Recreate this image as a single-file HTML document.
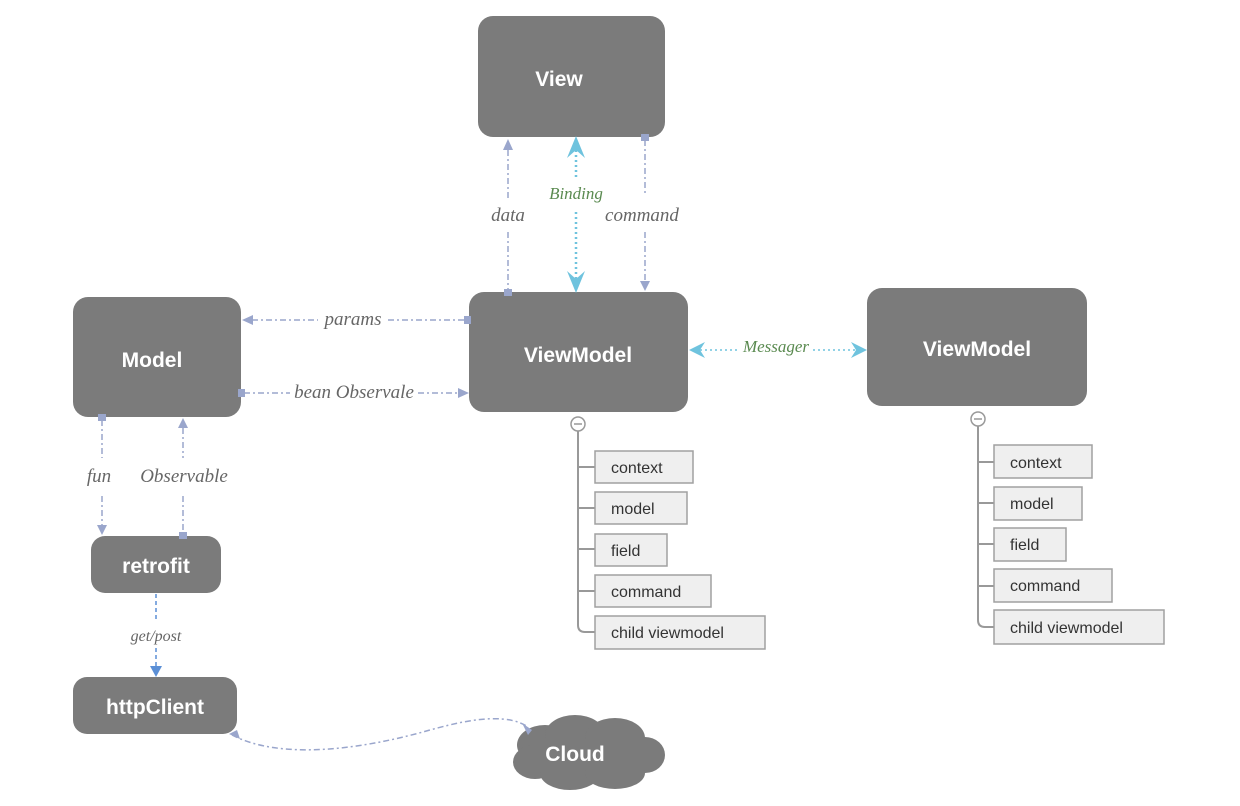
<!DOCTYPE html>
<html><head><meta charset="utf-8"><style>
html,body{margin:0;padding:0;background:#fff;}
svg{display:block;}
.n{fill:#7b7b7b;}
.nt{fill:#fff;font-family:"Liberation Sans",sans-serif;font-weight:bold;font-size:21px;text-anchor:middle;}
.lb{fill:#666;font-family:"Liberation Serif",serif;font-style:italic;font-size:19px;text-anchor:middle;}
.gl{fill:#5a8a50;font-family:"Liberation Serif",serif;font-style:italic;font-size:17px;text-anchor:middle;}
.ln{stroke:#9aa6cc;stroke-width:1.5;fill:none;stroke-dasharray:6 3 2 3;}
.bl{stroke:#6fc3de;stroke-width:2.5;fill:none;stroke-dasharray:2 3;}
.tb{fill:#efefef;stroke:#a0a0a0;stroke-width:1.5;}
.tt{fill:#333;font-family:"Liberation Sans",sans-serif;font-size:16px;}
.tr{stroke:#999;stroke-width:2;fill:none;}
</style></head><body>
<svg width="1240" height="806" viewBox="0 0 1240 806" xmlns="http://www.w3.org/2000/svg">
<!-- nodes -->
<rect class="n" x="478" y="16" width="187" height="121" rx="15"/>
<text class="nt" x="559" y="86">View</text>
<rect class="n" x="469" y="292" width="219" height="120" rx="15"/>
<text class="nt" x="578" y="362">ViewModel</text>
<rect class="n" x="867" y="288" width="220" height="118" rx="15"/>
<text class="nt" x="977" y="356">ViewModel</text>
<rect class="n" x="73" y="297" width="168" height="120" rx="15"/>
<text class="nt" x="152" y="367">Model</text>
<rect class="n" x="91" y="536" width="130" height="57" rx="14"/>
<text class="nt" x="156" y="573">retrofit</text>
<rect class="n" x="73" y="677" width="164" height="57" rx="14"/>
<text class="nt" x="155" y="714">httpClient</text>
<!-- cloud -->
<g fill="#7b7b7b">
<ellipse cx="545" cy="745" rx="28" ry="20"/>
<ellipse cx="575" cy="735" rx="30" ry="20"/>
<ellipse cx="615" cy="738" rx="30" ry="20"/>
<ellipse cx="645" cy="755" rx="20" ry="18"/>
<ellipse cx="535" cy="762" rx="22" ry="17"/>
<ellipse cx="570" cy="773" rx="30" ry="17"/>
<ellipse cx="615" cy="773" rx="30" ry="16"/>
<rect x="530" y="740" width="120" height="30"/>
</g>
<text class="nt" x="575" y="761">Cloud</text>

<!-- data -->
<line class="ln" x1="508" y1="150" x2="508" y2="198"/>
<line class="ln" x1="508" y1="232" x2="508" y2="290"/>
<polygon points="508,139 503,150 513,150" fill="#9aa6cc"/>
<rect x="504" y="289" width="8" height="7" fill="#9aa6cc"/>
<text class="lb" x="508" y="221">data</text>
<!-- command -->
<line class="ln" x1="645" y1="140" x2="645" y2="193"/>
<line class="ln" x1="645" y1="232" x2="645" y2="280"/>
<rect x="641" y="134" width="8" height="7" fill="#9aa6cc"/>
<polygon points="645,291 640,281 650,281" fill="#9aa6cc"/>
<text class="lb" x="642" y="221">command</text>
<!-- binding -->
<line class="bl" x1="576" y1="150" x2="576" y2="180"/>
<line class="bl" x1="576" y1="212" x2="576" y2="280"/>
<polygon points="576,136 567,158 576,150 585,158" fill="#6fc3de"/>
<polygon points="576,293 567,271 576,279 585,271" fill="#6fc3de"/>
<text class="gl" x="576" y="199">Binding</text>
<!-- messager -->
<line class="bl" x1="700" y1="350" x2="740" y2="350" style="stroke-width:1.5"/>
<line class="bl" x1="813" y1="350" x2="856" y2="350" style="stroke-width:1.5"/>
<polygon points="689,350 705,342 700,350 705,358" fill="#6fc3de"/>
<polygon points="867,350 851,342 856,350 851,358" fill="#6fc3de"/>
<text class="gl" x="776" y="352">Messager</text>
<!-- params -->
<line class="ln" x1="252" y1="320" x2="318" y2="320"/>
<line class="ln" x1="388" y1="320" x2="466" y2="320"/>
<polygon points="242,320 253,315 253,325" fill="#9aa6cc"/>
<rect x="464" y="316" width="7" height="8" fill="#9aa6cc"/>
<text class="lb" x="353" y="325">params</text>
<!-- bean -->
<line class="ln" x1="244" y1="393" x2="290" y2="393"/>
<line class="ln" x1="418" y1="393" x2="458" y2="393"/>
<rect x="238" y="389" width="7" height="8" fill="#9aa6cc"/>
<polygon points="469,393 458,388 458,398" fill="#9aa6cc"/>
<text class="lb" x="354" y="398">bean Observale</text>
<!-- fun -->
<line class="ln" x1="102" y1="420" x2="102" y2="458"/>
<line class="ln" x1="102" y1="496" x2="102" y2="525"/>
<rect x="98" y="414" width="8" height="7" fill="#9aa6cc"/>
<polygon points="102,535 97,525 107,525" fill="#9aa6cc"/>
<text class="lb" x="99" y="482">fun</text>
<!-- observable -->
<line class="ln" x1="183" y1="428" x2="183" y2="458"/>
<line class="ln" x1="183" y1="496" x2="183" y2="532"/>
<polygon points="183,418 178,428 188,428" fill="#9aa6cc"/>
<rect x="179" y="532" width="8" height="7" fill="#9aa6cc"/>
<text class="lb" x="184" y="482">Observable</text>
<!-- get/post -->
<line x1="156" y1="594" x2="156" y2="622" stroke="#5b8fd6" stroke-width="1.5" stroke-dasharray="4 3"/>
<line x1="156" y1="648" x2="156" y2="666" stroke="#5b8fd6" stroke-width="1.5" stroke-dasharray="4 3"/>
<polygon points="156,677 150,666 162,666" fill="#5b8fd6"/>
<text class="lb" x="156" y="641" style="font-size:16px">get/post</text>
<!-- cloud link -->
<path class="ln" d="M232,735 C280,760 360,750 430,730 C480,716 510,715 528,727"/>
<polygon points="229,734 237,730 240,739" fill="#9aa6cc"/>
<polygon points="532,730 522,723 528,735" fill="#9aa6cc"/>

<!-- tree 1 -->
<circle cx="578" cy="424" r="7" fill="#fff" stroke="#999" stroke-width="1.5"/>
<line x1="574" y1="424" x2="582" y2="424" stroke="#999" stroke-width="1.5"/>
<path class="tr" d="M578,431 V625 Q578,632 585,632 H595"/>
<path class="tr" d="M578,467 H595 M578,508 H595 M578,549 H595 M578,591 H595"/>
<rect class="tb" x="595" y="451" width="98" height="32"/><text class="tt" x="611" y="473">context</text>
<rect class="tb" x="595" y="492" width="92" height="32"/><text class="tt" x="611" y="514">model</text>
<rect class="tb" x="595" y="534" width="72" height="32"/><text class="tt" x="611" y="556">field</text>
<rect class="tb" x="595" y="575" width="116" height="32"/><text class="tt" x="611" y="597">command</text>
<rect class="tb" x="595" y="616" width="170" height="33"/><text class="tt" x="611" y="638">child viewmodel</text>

<!-- tree 2 -->
<circle cx="978" cy="419" r="7" fill="#fff" stroke="#999" stroke-width="1.5"/>
<line x1="974" y1="419" x2="982" y2="419" stroke="#999" stroke-width="1.5"/>
<path class="tr" d="M978,426 V620 Q978,627 985,627 H994"/>
<path class="tr" d="M978,462 H994 M978,503 H994 M978,544 H994 M978,586 H994"/>
<rect class="tb" x="994" y="445" width="98" height="33"/><text class="tt" x="1010" y="468">context</text>
<rect class="tb" x="994" y="487" width="88" height="33"/><text class="tt" x="1010" y="509">model</text>
<rect class="tb" x="994" y="528" width="72" height="33"/><text class="tt" x="1010" y="550">field</text>
<rect class="tb" x="994" y="569" width="118" height="33"/><text class="tt" x="1010" y="591">command</text>
<rect class="tb" x="994" y="610" width="170" height="34"/><text class="tt" x="1010" y="633">child viewmodel</text>
</svg>
</body></html>
